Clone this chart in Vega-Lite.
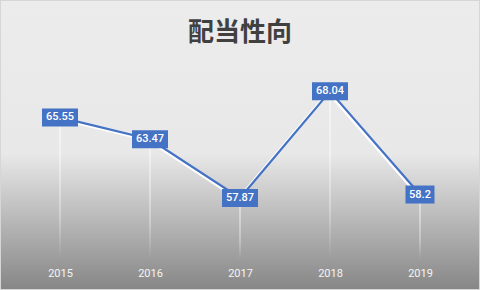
{
  "$schema": "https://vega.github.io/schema/vega-lite/v6.json",
  "width": 480,
  "height": 290,
  "autosize": "none",
  "padding": 0,
  "background": "#ebebeb",
  "title": {
    "text": "配当性向",
    "anchor": "middle",
    "frame": "group",
    "orient": "top",
    "baseline": "middle",
    "offset": -32,
    "dy": 27,
    "font": "Noto Sans CJK JP",
    "fontSize": 26,
    "fontWeight": "bold",
    "color": "#404040"
  },
  "config": {
    "view": {
      "fill": {
        "gradient": "linear",
        "x1": 0, "y1": 0, "x2": 0, "y2": 1,
        "stops": [
          {"offset": 0, "color": "#ececec"},
          {"offset": 0.53, "color": "#e8e8e8"},
          {"offset": 1, "color": "#868686"}
        ]
      },
      "stroke": "#d6d6d6",
      "strokeWidth": 2
    }
  },
  "data": {
    "values": [
      {"year": "2015", "value": 65.55},
      {"year": "2016", "value": 63.47},
      {"year": "2017", "value": 57.87},
      {"year": "2018", "value": 68.04},
      {"year": "2019", "value": 58.2}
    ]
  },
  "encoding": {
    "x": {
      "field": "year",
      "type": "ordinal",
      "scale": {"type": "point", "padding": 0.6667},
      "axis": {
        "orient": "bottom",
        "title": null,
        "domain": false,
        "ticks": false,
        "grid": false,
        "labelAngle": 0,
        "labelBaseline": "middle",
        "labelPadding": -17,
        "labelFont": "Roboto",
        "labelFontSize": 11,
        "labelColor": "#f4f4f4"
      }
    },
    "y": {
      "field": "value",
      "type": "quantitative",
      "scale": {"domain": [49.1, 76.745], "nice": false, "zero": false},
      "axis": null
    }
  },
  "layer": [
    {
      "mark": {
        "type": "bar",
        "width": 1,
        "color": {
          "gradient": "linear",
          "x1": 0, "y1": 0, "x2": 0, "y2": 1,
          "stops": [
            {"offset": 0, "color": "rgba(255,255,255,0.95)"},
            {"offset": 0.7, "color": "rgba(255,255,255,0.6)"},
            {"offset": 1, "color": "rgba(255,255,255,0)"}
          ]
        }
      },
      "encoding": {
        "y2": {"datum": 52}
      }
    },
    {
      "mark": {"type": "line", "color": "#ffffff", "strokeWidth": 2.5, "xOffset": -2, "yOffset": 1}
    },
    {
      "mark": {"type": "line", "color": "#4472c4", "strokeWidth": 2.2}
    },
    {
      "mark": {"type": "tick", "orient": "horizontal", "thickness": 18, "color": "#4472c4", "opacity": 1},
      "encoding": {
        "size": {"condition": {"test": "length(format(datum.value, '')) < 5", "value": 29}, "value": 36}
      }
    },
    {
      "mark": {"type": "text", "color": "#ffffff", "font": "Roboto", "fontSize": 11, "fontWeight": 500, "baseline": "middle", "align": "center"},
      "encoding": {
        "text": {"field": "value", "type": "quantitative", "format": ""}
      }
    }
  ]
}
